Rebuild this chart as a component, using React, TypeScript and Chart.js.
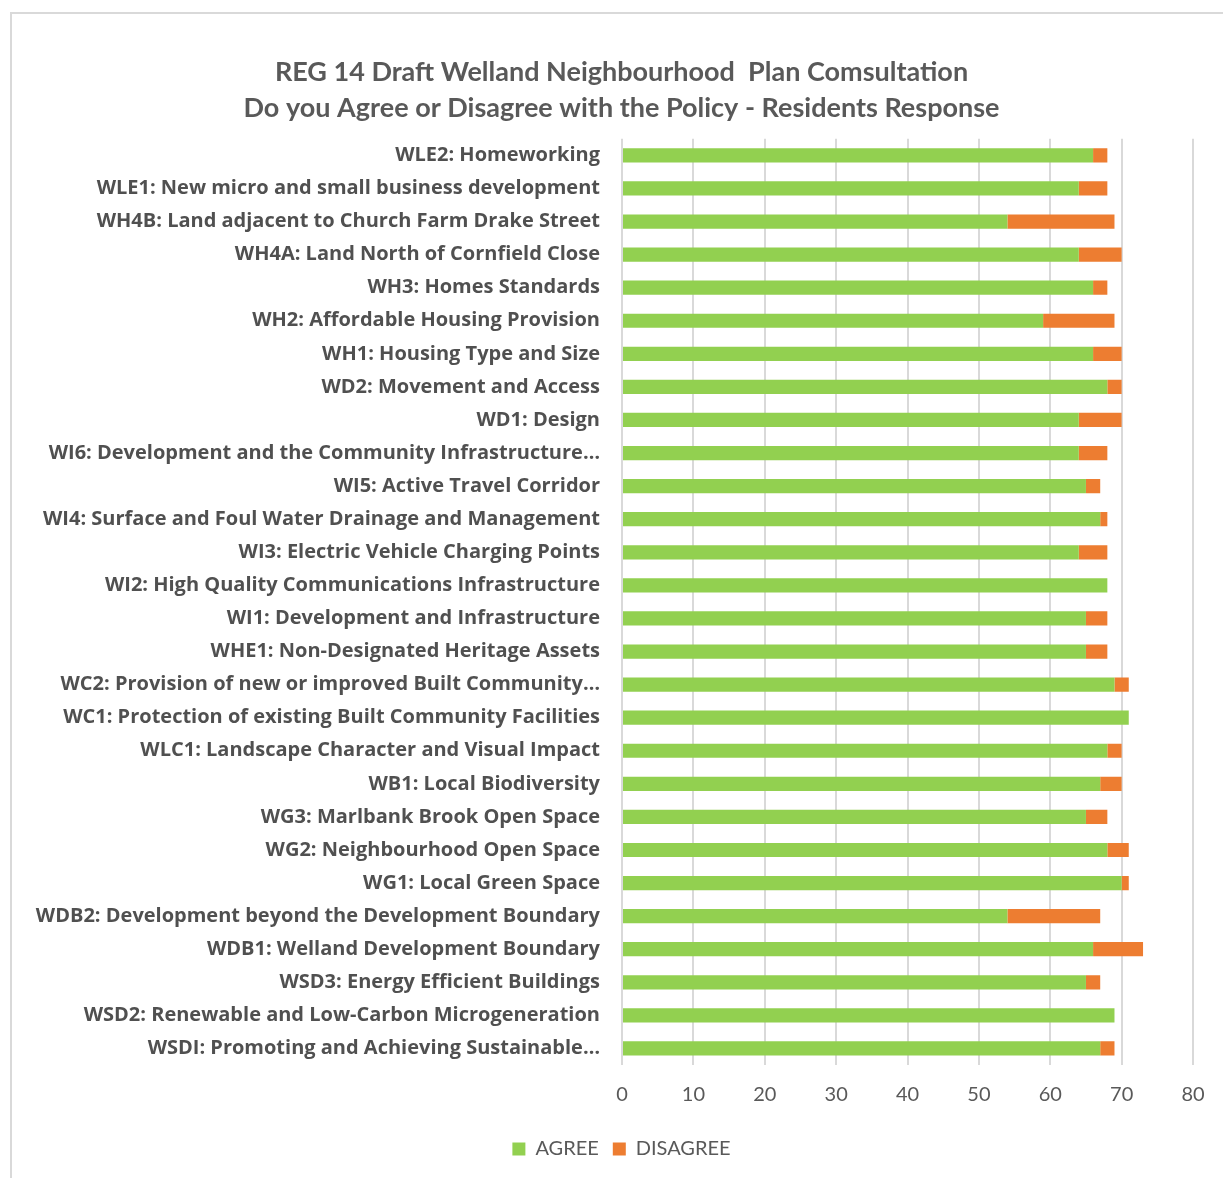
import React, { useEffect, useRef } from "react";
import { Chart, registerables } from "chart.js";

Chart.register(...registerables);

const titleLines = [
  "REG 14 Draft Welland Neighbourhood  Plan Comsultation",
  "Do you Agree or Disagree with the Policy - Residents Response",
];

const categories = [
  "WLE2: Homeworking",
  "WLE1: New micro and small business development",
  "WH4B: Land adjacent to Church Farm Drake Street",
  "WH4A: Land North of Cornfield Close",
  "WH3: Homes Standards",
  "WH2: Affordable Housing Provision",
  "WH1: Housing Type and Size",
  "WD2: Movement and Access",
  "WD1: Design",
  "WI6: Development and the Community Infrastructure…",
  "WI5: Active Travel Corridor",
  "WI4: Surface and Foul Water Drainage and Management",
  "WI3: Electric Vehicle Charging Points",
  "WI2: High Quality Communications Infrastructure",
  "WI1: Development and Infrastructure",
  "WHE1: Non-Designated Heritage Assets",
  "WC2: Provision of new or improved Built Community…",
  "WC1: Protection of existing Built Community Facilities",
  "WLC1: Landscape Character and Visual Impact",
  "WB1: Local Biodiversity",
  "WG3: Marlbank Brook Open Space",
  "WG2: Neighbourhood Open Space",
  "WG1: Local Green Space",
  "WDB2: Development beyond the Development Boundary",
  "WDB1: Welland Development Boundary",
  "WSD3: Energy Efficient Buildings",
  "WSD2: Renewable and Low-Carbon Microgeneration",
  "WSDI: Promoting and Achieving Sustainable…",
];

const agree = [
  66, 64, 54, 64, 66, 59, 66, 68, 64, 64, 65, 67, 64, 68, 65, 65, 69, 71, 68,
  67, 65, 68, 70, 54, 66, 65, 69, 67,
];

const disagree = [
  2, 4, 15, 6, 2, 10, 4, 2, 6, 4, 2, 1, 4, 0, 3, 3, 2, 0, 2, 3, 3, 3, 1, 13,
  7, 2, 0, 2,
];

const seriesNames = ["AGREE", "DISAGREE"];
const seriesColors = ["#92d050", "#ed7d31"];
const xMin = 0;
const xMax = 80;
const xStep = 10;

const FONT = "Lato, 'Open Sans', sans-serif";
const LABEL_FONT = "'Open Sans', Lato, sans-serif";

export default function App() {
  const canvasRef = useRef<HTMLCanvasElement | null>(null);

  useEffect(() => {
    const canvas = canvasRef.current;
    if (!canvas) return;
    const chart = new Chart(canvas, {
      type: "bar",
      data: {
        labels: categories,
        datasets: [
          {
            label: seriesNames[0],
            data: agree,
            backgroundColor: seriesColors[0],
            categoryPercentage: 1,
            barPercentage: 0.43,
          },
          {
            label: seriesNames[1],
            data: disagree,
            backgroundColor: seriesColors[1],
            categoryPercentage: 1,
            barPercentage: 0.43,
          },
        ],
      },
      options: {
        indexAxis: "y",
        animation: false,
        responsive: false,
        maintainAspectRatio: false,
        layout: { padding: { left: 20, right: 0, top: 0, bottom: 9 } },
        plugins: {
          title: {
            display: true,
            text: titleLines,
            color: "#595959",
            font: { family: FONT, size: 27, weight: "bold", lineHeight: 1.33 },
            padding: { top: 54, bottom: 13 },
          },
          legend: {
            display: true,
            position: "bottom",
            labels: {
              color: "#595959",
              font: { family: FONT, size: 20 },
              boxWidth: 13,
              boxHeight: 13,
              padding: 14,
            },
          },
          tooltip: { enabled: false },
        },
        scales: {
          x: {
            stacked: true,
            min: xMin,
            max: xMax,
            ticks: {
              stepSize: xStep,
              color: "#595959",
              font: { family: FONT, size: 20, lineHeight: 1.2 },
              padding: 18,
            },
            grid: {
              color: "#d9d9d9",
              lineWidth: 2,
              drawTicks: false,
            },
            border: { display: false },
          },
          y: {
            stacked: true,
            ticks: {
              color: "#505050",
              font: { family: LABEL_FONT, size: 20, weight: "bold" },
              padding: 22,
              autoSkip: false,
            },
            grid: { display: false, drawTicks: false },
            border: { display: false },
            afterFit: (scale: any) => {
              scale.width = 602;
            },
          },
          yRight: {
            type: "category",
            position: "right",
            display: true,
            ticks: { display: false },
            grid: { display: false, drawTicks: false },
            border: { display: false },
            afterFit: (scale: any) => {
              scale.width = 30;
            },
          },
        },
      },
    });
    return () => chart.destroy();
  }, []);

  return (
    <div
      style={{
        position: "fixed",
        left: 0,
        top: 0,
        width: 1223,
        height: 1178,
        background: "#ffffff",
        overflow: "hidden",
      }}
    >
      <div
        style={{
          position: "absolute",
          left: 10,
          top: 12,
          width: 1240,
          height: 1200,
          border: "2px solid #d9d9d9",
          boxSizing: "border-box",
        }}
      />
      <canvas
        ref={canvasRef}
        width={1223}
        height={1178}
        style={{ position: "absolute", left: 0, top: 0, width: 1223, height: 1178 }}
      />
    </div>
  );
}
